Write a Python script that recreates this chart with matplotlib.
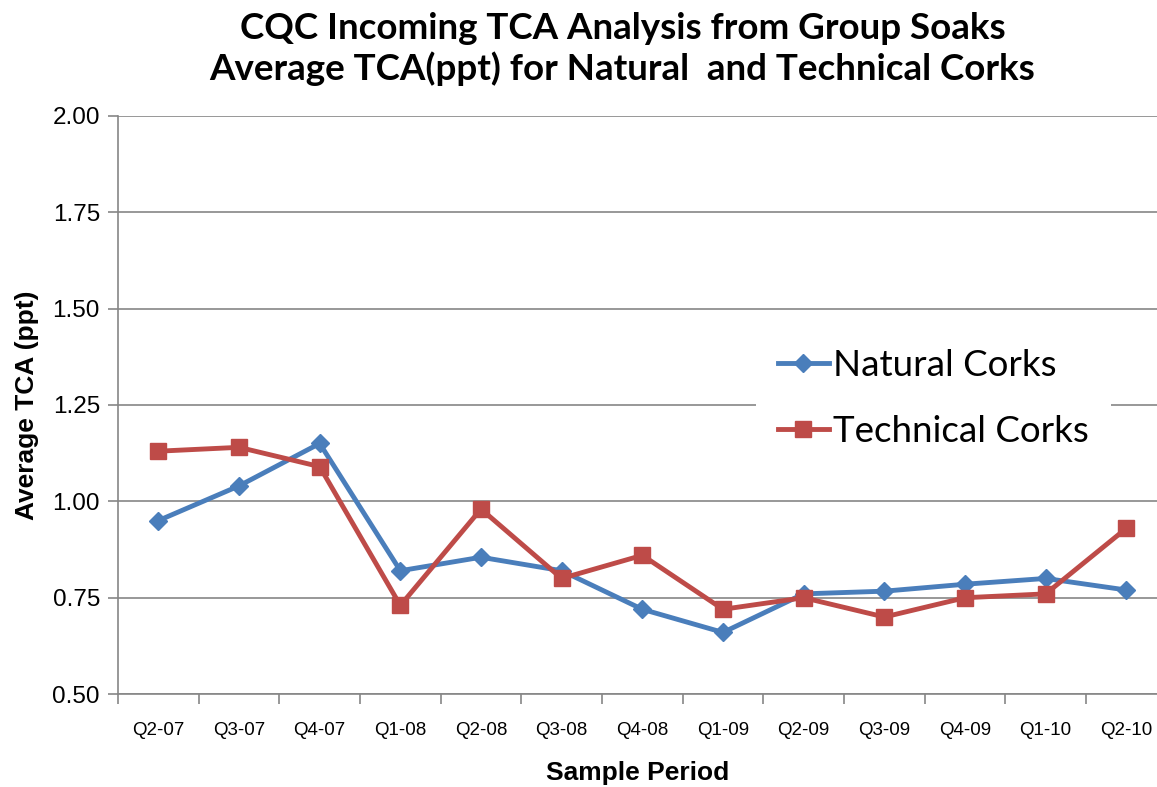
import matplotlib.pyplot as plt
from matplotlib.ticker import FixedLocator, FormatStrFormatter

periods = ["Q2-07", "Q3-07", "Q4-07", "Q1-08", "Q2-08", "Q3-08", "Q4-08",
           "Q1-09", "Q2-09", "Q3-09", "Q4-09", "Q1-10", "Q2-10"]
natural = [0.95, 1.04, 1.15, 0.82, 0.855, 0.82, 0.72, 0.66, 0.76, 0.767, 0.785, 0.80, 0.77]
technical = [1.13, 1.14, 1.09, 0.73, 0.98, 0.80, 0.86, 0.72, 0.75, 0.70, 0.75, 0.76, 0.93]

blue = "#4A7EBB"
red = "#BE4B48"
grid = "#868686"

fig = plt.figure(figsize=(11.57, 7.87), dpi=100)
ax = fig.add_axes([0.102, 0.118, 0.898, 0.735])

x = range(len(periods))
ax.plot(x, natural, color=blue, lw=3.5, marker="D", ms=9, label="Natural Corks")
ax.plot(x, technical, color=red, lw=3.5, marker="s", ms=11, label="Technical Corks")

ax.set_ylim(0.5, 2.0)
ax.set_xlim(-0.5, 12.38)
ax.set_yticks([0.5, 0.75, 1.0, 1.25, 1.5, 1.75, 2.0])
ax.yaxis.set_major_formatter(FormatStrFormatter("%.2f"))
ax.grid(axis="y", color=grid, lw=1.2)
ax.set_axisbelow(True)

ax.set_xticks(list(x))
ax.set_xticklabels(periods, fontsize=13.5, family="Liberation Sans")
ax.xaxis.set_minor_locator(FixedLocator([i - 0.5 for i in range(len(periods) + 1)]))
ax.tick_params(axis="x", which="major", length=0, pad=20)
ax.tick_params(axis="x", which="minor", length=7, color=grid, width=1.2)
ax.tick_params(axis="y", length=7, color=grid, width=1.2, labelsize=17.5, pad=6)
for lab in ax.get_yticklabels():
    lab.set_family("Liberation Sans")

for s in ["top", "right"]:
    ax.spines[s].set_visible(False)
for s in ["left", "bottom"]:
    ax.spines[s].set_color(grid)
    ax.spines[s].set_linewidth(1.2)

ax.set_xlabel("Sample Period", fontsize=19, fontweight="bold", family="Liberation Sans", labelpad=16)
ax.set_ylabel("Average TCA (ppt)", fontsize=19, fontweight="bold", family="Liberation Sans", labelpad=10)

fig.suptitle("CQC Incoming TCA Analysis from Group Soaks\nAverage TCA(ppt) for Natural  and Technical Corks",
             fontsize=26.5, fontweight="bold", family="Lato", x=0.538, y=0.985, linespacing=1.22)

leg = ax.legend(loc="upper left", bbox_to_anchor=(0.596, 0.667),
                frameon=True, facecolor="white", edgecolor="none", framealpha=1,
                handlelength=1.4, handletextpad=0.1, labelspacing=0.9,
                borderpad=0.6, prop={"family": "Lato", "size": 26.5})
leg.get_frame().set_boxstyle("square", pad=0)

fig.savefig("out.png", dpi=100)
